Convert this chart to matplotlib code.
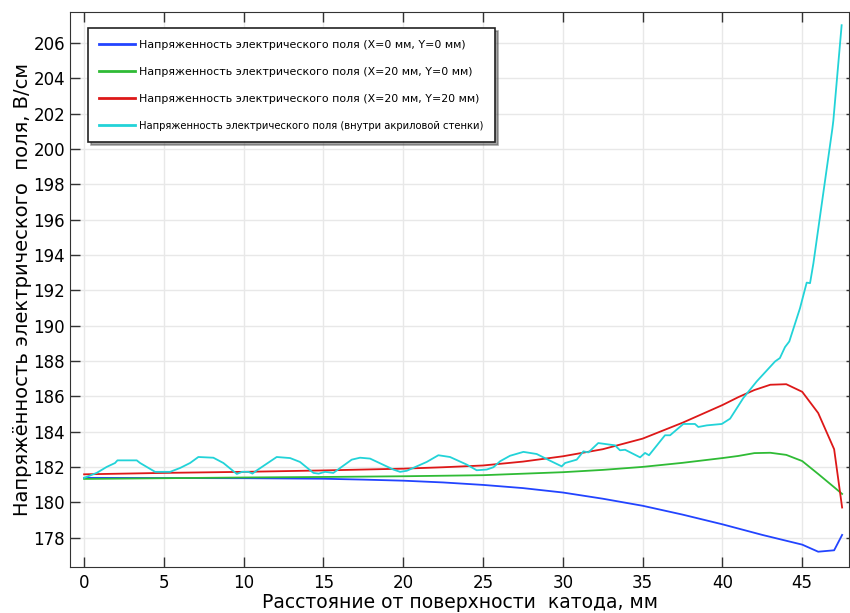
import matplotlib.pyplot as plt

# distance from cathode surface, mm / field strength, V/cm
x_blue = [0, 5, 10, 15, 17.5, 20, 22.5, 25, 27.5, 30, 32.5, 35, 37.5, 40,
          42.5, 45, 46, 47, 47.5]
e_blue = [181.38, 181.37, 181.36, 181.33, 181.28, 181.22, 181.12, 180.98,
          180.8, 180.55, 180.2, 179.8, 179.3, 178.75, 178.15, 177.6, 177.2,
          177.28, 178.15]

x_green = [0, 5, 10, 15, 20, 25, 30, 32.5, 35, 37.5, 40, 41, 42, 43, 44,
           45, 46, 47, 47.5]
e_green = [181.32, 181.36, 181.4, 181.43, 181.47, 181.53, 181.7, 181.83,
           182.0, 182.23, 182.5, 182.62, 182.78, 182.8, 182.68, 182.33,
           181.6, 180.85, 180.47]

x_red = [0, 5, 10, 15, 20, 22.5, 25, 27.5, 30, 32.5, 35, 37.5, 40, 41, 42,
         43, 44, 45, 46, 47, 47.5]
e_red = [181.58, 181.66, 181.72, 181.8, 181.9, 181.98, 182.08, 182.3, 182.6,
         183.0, 183.6, 184.5, 185.5, 185.95, 186.35, 186.65, 186.68, 186.25,
         185.05, 183.0, 179.7]

x_cyan = [0, 0.79, 1.42, 1.94, 2.09, 3.30, 3.51, 4.45, 5.39, 6.02, 6.64,
          7.16, 8.10, 8.73, 9.57, 9.9, 10.3, 10.55, 10.82, 12.07, 12.91,
          13.53, 14.37, 14.7, 15.1, 15.62, 16.77, 17.29, 17.92, 19.38, 19.8,
          20.22, 21.47, 22.2, 22.93, 23.98, 24.6, 25.23, 25.65, 26.07, 26.69,
          27.53, 28.36, 29.2, 29.93, 30.14, 30.87, 31.29, 31.6, 32.22, 33.27,
          33.58, 33.9, 34.84, 35.15, 35.4, 36.4, 36.72, 37.55, 38.28, 38.49,
          39.02, 39.96, 40.48, 41.31, 42.15, 43.3, 43.6, 43.92, 44.19, 44.86,
          45.28, 45.49, 45.7, 46.89, 46.95, 47.47]
e_cyan = [181.38, 181.66, 182.0, 182.22, 182.37, 182.37, 182.22, 181.72,
          181.72, 181.94, 182.22, 182.56, 182.52, 182.22, 181.6, 181.72,
          181.72, 181.62, 181.8, 182.56, 182.5, 182.28, 181.66, 181.62,
          181.72, 181.66, 182.41, 182.52, 182.47, 181.85, 181.72, 181.78,
          182.28, 182.66, 182.56, 182.13, 181.81, 181.85, 181.98, 182.32,
          182.63, 182.85, 182.73, 182.35, 182.03, 182.22, 182.41, 182.88,
          182.82, 183.35, 183.22, 182.94, 182.97, 182.54, 182.79, 182.66,
          183.79, 183.79, 184.43, 184.43, 184.26, 184.35, 184.43, 184.73,
          185.9, 186.84, 187.97, 188.16, 188.78, 189.1, 190.98, 192.43,
          192.4, 193.52, 201.15, 201.6, 207.0]

labels = [
    'Напряженность электрического поля (X=0 мм, Y=0 мм)',
    'Напряженность электрического поля (X=20 мм, Y=0 мм)',
    'Напряженность электрического поля (X=20 мм, Y=20 мм)',
    'Напряженность электрического поля (внутри акриловой стенки)',
]
x_ticks = [0, 5, 10, 15, 20, 25, 30, 35, 40, 45]
y_ticks = [178, 180, 182, 184, 186, 188, 190, 192, 194, 196, 198, 200, 202, 204, 206]

fig = plt.figure(figsize=(8.5, 6.13), dpi=100)
ax = fig.add_axes([0.0824, 0.0755, 0.9164, 0.905])

ax.plot(x_blue, e_blue, color='#2244ff', lw=1.3, label=labels[0])
ax.plot(x_green, e_green, color='#2fbb35', lw=1.3, label=labels[1])
ax.plot(x_red, e_red, color='#dd1818', lw=1.3, label=labels[2])
ax.plot(x_cyan, e_cyan, color='#22d3d8', lw=1.3, label=labels[3])

ax.set_xlim(-0.88, 47.93)
ax.set_ylim(176.35, 207.75)
ax.set_xticks(x_ticks)
ax.set_yticks(y_ticks)
ax.grid(True, color='#e8e8e8', lw=1)
ax.set_axisbelow(True)

ax.tick_params(axis='both', direction='in', labelsize=12, length=7, width=1,
               colors='#333333', labelcolor='black')
ax.tick_params(axis='x', top=True, pad=5)
ax.tick_params(axis='y', right=True)
for t in ax.yaxis.get_major_ticks():
    t.tick2line.set_markersize(2)
for sp in ax.spines.values():
    sp.set_color('#333333')

ax.set_xlabel('Расстояние от поверхности  катода, мм', fontsize=13.5, labelpad=1)
ax.set_ylabel('Напряжённость электрического  поля, В/см', fontsize=14, labelpad=1)

leg = ax.legend(loc='upper left', bbox_to_anchor=(0.023, 0.971), borderaxespad=0,
                fontsize=7.9, handlelength=3.2, labelspacing=1.55,
                borderpad=1.05, handletextpad=0.4, fancybox=False, shadow=True,
                edgecolor='#222222', framealpha=1)
leg.get_frame().set_linewidth(1.2)
leg.get_texts()[3].set_fontsize(7.2)
for line in leg.get_lines():
    line.set_linewidth(2)

fig.savefig('out.png', dpi=100)
